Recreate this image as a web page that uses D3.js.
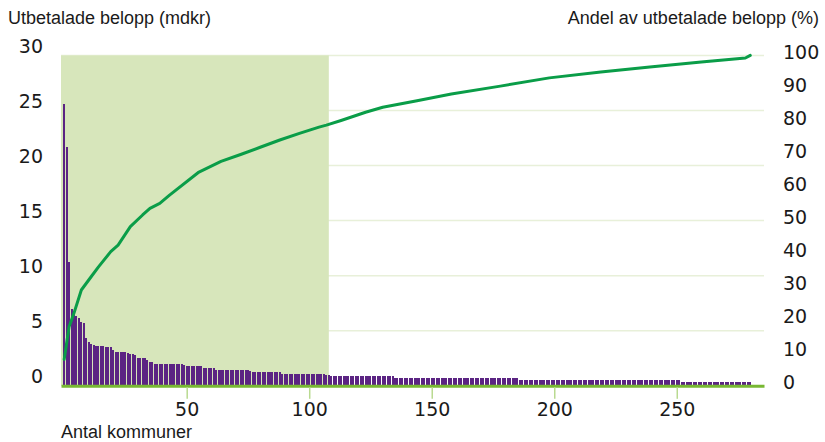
<!DOCTYPE html>
<html><head><meta charset="utf-8">
<script src="https://cdn.jsdelivr.net/npm/d3@7"></script>
<style>body{margin:0;background:#fff}</style>
</head><body>
<svg id="c" width="825" height="442"></svg>
<script>
// Utbetalade belopp per kommun (mdkr), sorterat fallande
const barValues = [
25.6,21.7,11.2,7.0,6.4,6.3,6.2,5.8,5.7,4.3,
4.0,3.8,3.7,3.65,3.6,3.6,3.6,3.55,3.55,3.5,
3.25,3.1,3.08,3.07,3.05,3.03,3.0,2.9,2.86,2.82,
2.55,2.53,2.5,2.48,2.37,2.18,2.15,
2.02,2.01,2.0,2.0,1.99,1.98,1.98,1.97,1.96,1.96,1.95,1.94,1.93,
1.82,1.81,1.8,1.79,1.78,1.77,1.76,
1.64,1.63,1.62,1.6,1.59,
1.46,1.45,1.45,1.44,1.44,1.43,1.43,1.42,1.42,1.41,1.41,1.4,1.4,1.39,1.38,
1.27,1.27,1.26,1.26,1.25,1.25,1.24,1.24,1.23,1.23,1.22,1.21,
1.09,1.09,1.08,1.08,1.08,1.07,1.07,1.07,1.06,1.06,1.06,1.05,1.05,1.05,1.04,1.04,1.03,1.03,1.02,1.02,
0.91,0.91,0.91,0.9,0.9,0.9,0.9,0.89,0.89,0.89,0.89,0.89,0.88,0.88,0.88,0.88,0.88,0.87,0.87,0.87,0.87,0.86,0.86,0.86,0.86,0.85,
0.73,0.73,0.73,0.73,0.73,0.73,0.73,0.73,0.73,
0.72,0.72,0.72,0.72,0.72,0.72,0.72,0.72,0.72,0.72,
0.71,0.71,0.71,0.71,0.71,0.71,0.71,0.71,0.71,0.71,0.71,
0.70,0.70,0.70,0.70,0.70,0.70,0.70,0.70,0.70,0.70,0.70,
0.69,0.69,0.69,0.69,0.69,0.69,0.69,0.69,0.69,0.69,
0.55,0.55,0.55,0.55,0.55,0.55,0.55,0.55,0.55,0.55,0.55,0.55,0.55,
0.54,0.54,0.54,0.54,0.54,0.54,0.54,0.54,0.54,0.54,0.54,0.54,0.54,
0.53,0.53,0.53,0.53,0.53,0.53,0.53,0.53,0.53,0.53,0.53,0.53,0.53,
0.52,0.52,0.52,0.52,0.52,0.52,0.52,0.52,0.52,0.52,0.52,0.52,0.52,
0.51,0.51,0.51,0.51,0.51,0.51,0.51,0.51,0.51,0.51,0.51,0.51,0.51,0.51,
0.37,0.37,0.37,0.37,0.37,0.37,0.37,
0.36,0.36,0.36,0.36,0.36,0.36,0.36,
0.35,0.35,0.35,0.35,0.35,0.35,0.35,0.35,
0.34,0.34,0.34,0.34,0.34,0.34,0.34
];
// Kumulativ andel (%) avläst vid kommun-nummer
const lineKommun  = [0, 2, 4, 7, 11, 14, 19, 22, 27, 32, 35, 39, 43, 55, 64, 72, 80, 88, 96, 104, 107, 113, 123, 130, 137, 144, 158, 178, 198, 219, 239, 260, 278, 280];
const linePercent = [8.0, 17.9, 22.0, 29.0, 33.0, 36.0, 40.6, 42.6, 48.2, 51.7, 53.7, 55.2, 57.7, 64.7, 67.9, 70.0, 72.2, 74.4, 76.4, 78.3, 78.9, 80.3, 82.8, 84.3, 85.3, 86.3, 88.3, 90.7, 93.2, 95.0, 96.5, 98.0, 99.2, 100];
const highlightCount = 108;
const leftTicks  = [0, 5, 10, 15, 20, 25, 30];
const rightTicks = [0, 10, 20, 30, 40, 50, 60, 70, 80, 90, 100];
const xTicks     = [50, 100, 150, 200, 250];
const leftTitle  = "Utbetalade belopp (mdkr)";
const rightTitle = "Andel av utbetalade belopp (%)";
const xTitle     = "Antal kommuner";

const svg = d3.select("#c");
const x  = d3.scaleLinear().domain([-1.3, 285.6]).range([61, 764]);
const y  = d3.scaleLinear().domain([0, 30]).range([385.8, 55.4]);
const y2 = d3.scaleLinear().domain([0, 100]).range([385.8, 55.4]);
const [xL, xR] = x.range();

// gridlines
svg.append("g").selectAll("line").data(leftTicks.filter(d => d > 0)).join("line")
  .attr("x1", xL).attr("x2", xR).attr("y1", d => y(d)).attr("y2", d => y(d))
  .attr("stroke", "#e8f0d9").attr("stroke-width", 1.5);

// highlighted region
svg.append("rect")
  .attr("x", xL).attr("y", y(30))
  .attr("width", x(highlightCount) - xL).attr("height", y(0) - y(30))
  .attr("fill", "#d7e6bb");

// bars
svg.append("g").selectAll("rect").data(barValues).join("rect")
  .attr("x", (d, i) => x(i) - 1).attr("width", 2)
  .attr("y", d => y(d)).attr("height", d => y(0) - y(d))
  .attr("fill", "#5b2483").attr("shape-rendering", "crispEdges");

// cumulative line
const lineData = lineKommun.map((k, i) => [k, linePercent[i]]);
svg.append("path").datum(lineData)
  .attr("d", d3.line().x(d => x(d[0])).y(d => y2(d[1])))
  .attr("fill", "none").attr("stroke", "#0a9d48").attr("stroke-width", 3)
  .attr("stroke-linejoin", "round").attr("stroke-linecap", "round");

// x axis
const gx = svg.append("g").attr("transform", `translate(0,${y(0)})`)
  .call(d3.axisBottom(x).tickValues(xTicks).tickSize(13).tickSizeOuter(0));
gx.select(".domain").attr("stroke", "#78b833").attr("stroke-width", 3);
gx.selectAll(".tick line").attr("stroke", "#b9da90").attr("stroke-width", 1.5).attr("y1", 1.5);
gx.selectAll(".tick text").attr("y", 30).attr("dy", null)
  .attr("font-family", "DejaVu Sans").attr("font-size", 19).attr("fill", "#1a1a1a");
gx.raise();

// left axis
const gl = svg.append("g").attr("transform", "translate(43,0)")
  .call(d3.axisLeft(y).tickValues(leftTicks).tickSize(0).tickPadding(0));
gl.select(".domain").remove();
gl.selectAll(".tick text").attr("y", -3).attr("dy", null)
  .attr("font-family", "DejaVu Sans").attr("font-size", 19).attr("fill", "#1a1a1a");

// right axis
const gr = svg.append("g").attr("transform", "translate(783,0)")
  .call(d3.axisRight(y2).tickValues(rightTicks).tickSize(0).tickPadding(0));
gr.select(".domain").remove();
gr.selectAll(".tick text").attr("y", 3).attr("dy", null)
  .attr("font-family", "DejaVu Sans").attr("font-size", 19).attr("fill", "#1a1a1a");

// titles
const tf = "Liberation Sans";
svg.append("text").attr("x", 8).attr("y", 24).attr("font-family", tf).attr("font-size", 18)
  .attr("fill", "#1a1a1a").text(leftTitle);
svg.append("text").attr("x", 819).attr("y", 24).attr("text-anchor", "end").attr("font-family", tf)
  .attr("font-size", 18).attr("fill", "#1a1a1a").text(rightTitle);
svg.append("text").attr("x", 61).attr("y", 438).attr("font-family", tf).attr("font-size", 18)
  .attr("fill", "#1a1a1a").text(xTitle);
</script>
</body></html>
